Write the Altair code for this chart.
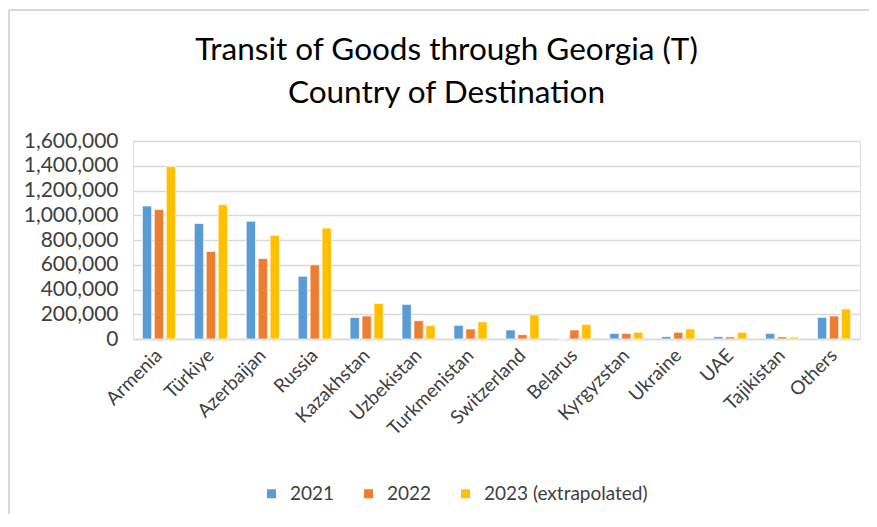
import altair as alt
import pandas as pd

countries = ["Armenia", "Türkiye", "Azerbaijan", "Russia", "Kazakhstan", "Uzbekistan",
             "Turkmenistan", "Switzerland", "Belarus", "Kyrgyzstan", "Ukraine", "UAE",
             "Tajikistan", "Others"]
v2021 = [1075000, 934000, 952000, 507000, 174000, 280000, 110000, 73000, 0, 45000,
         19000, 19000, 45000, 175000]
v2022 = [1047000, 707000, 650000, 599000, 186000, 148000, 81000, 35000, 73000, 45000,
         54000, 17000, 17000, 186000]
v2023 = [1393000, 1085000, 839000, 896000, 288000, 110000, 138000, 194000, 118000, 54000,
         81000, 54000, 15000, 243000]
series = ["2021", "2022", "2023 (extrapolated)"]
colors = ["#5B9BD5", "#ED7D31", "#FFC000"]

rows = []
for s, vals in zip(series, [v2021, v2022, v2023]):
    for c, v in zip(countries, vals):
        rows.append({"country": c, "series": s, "value": v})
df = pd.DataFrame(rows)

FONT = "Lato"

bars = alt.Chart(df).mark_bar(stroke="white", strokeWidth=0.7).encode(
    x=alt.X("country:N", sort=countries, title=None,
            scale=alt.Scale(paddingInner=0.36, paddingOuter=0.18),
            axis=alt.Axis(labelAngle=-45, labelAlign="right", labelBaseline="middle",
                          labelFontSize=19, labelColor="#404040", labelFont=FONT,
                          ticks=False, domain=True, domainColor="#D9D9D9", domainWidth=1.5,
                          labelPadding=13)),
    xOffset=alt.XOffset("series:N", sort=series, scale=alt.Scale(paddingInner=0.22)),
    y=alt.Y("value:Q", title=None,
            scale=alt.Scale(domain=[0, 1600000]),
            axis=alt.Axis(values=list(range(0, 1600001, 200000)), format=",d",
                          labelFontSize=21, labelColor="#404040", labelFont=FONT,
                          ticks=False, domain=False, gridColor="#D9D9D9", gridWidth=1.5,
                          labelPadding=15)),
    color=alt.Color("series:N", sort=series,
                    scale=alt.Scale(domain=series, range=colors),
                    legend=alt.Legend(title=None, orient="none", direction="horizontal",
                                      legendX=129, legendY=343, symbolType="square",
                                      symbolSize=81, symbolStrokeWidth=0, labelLimit=400,
                                      labelFontSize=19, labelFont=FONT, labelColor="#404040",
                                      columnPadding=24, labelOffset=9)),
)

frame = pd.DataFrame({"k": [0]})
left_border = alt.Chart(frame).mark_rule(color="#D9D9D9", strokeWidth=2).encode(
    x=alt.value(-124), y=alt.value(-131), y2=alt.value(390))
top_border = alt.Chart(frame).mark_rule(color="#D9D9D9", strokeWidth=2).encode(
    x=alt.value(-124), x2=alt.value(745), y=alt.value(-131))

chart = alt.layer(bars, left_border, top_border).properties(
    width=727, height=198,
    title=alt.TitleParams(
        text=["Transit of Goods through Georgia (T)", "Country of Destination"],
        fontSize=31.5, font=FONT, fontWeight="normal", color="#000000",
        lineHeight=43, anchor="middle", dx=-50, offset=-100),
    padding={"left": 125, "top": 133, "right": 9, "bottom": 175},
    autosize=alt.AutoSizeParams(type="none"),
).configure_view(stroke=None).configure(background="white")

chart.save("out.html", embed_options={"renderer": "svg", "actions": False})
